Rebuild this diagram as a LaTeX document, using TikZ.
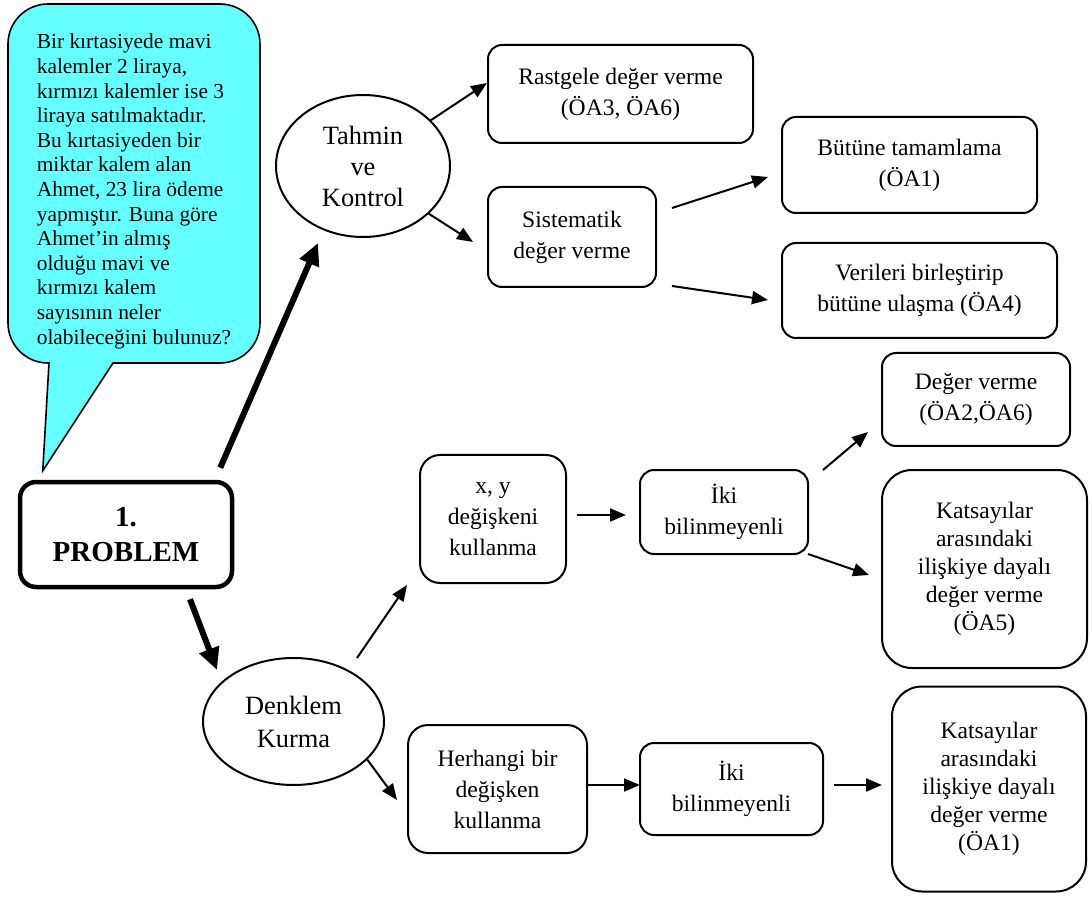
\documentclass[tikz,border=0pt]{standalone}
\usepackage{fontspec}
\setmainfont{Liberation Serif}
\usepackage{xcolor}
\usepackage{tikz}
\usetikzlibrary{shapes,arrows.meta,positioning,backgrounds}
\definecolor{bubblecyan}{RGB}{102,255,255}
\tikzstyle{bubble} = [draw=black, line width=0.8pt, fill=bubblecyan]
\tikzstyle{qtext} = [rectangle, minimum width=126pt, minimum height=179.5pt, inner sep=0pt, outer sep=0pt, align=left, font=\fontsize{10.7}{12.3}\selectfont]
\tikzstyle{start} = [rectangle, rounded corners=8pt, draw, line width=2.25pt, minimum width=106pt, minimum height=52.5pt, align=center, font=\fontsize{14.5}{17.5}\selectfont\bfseries]
\tikzstyle{oval} = [ellipse, draw, line width=1pt, inner sep=0pt, outer sep=0pt, align=center, font=\fontsize{13.2}{16.5}\selectfont]
\tikzstyle{box} = [rectangle, rounded corners=7pt, draw, line width=1pt, inner sep=0pt, outer sep=0pt, align=center, font=\fontsize{11.8}{15.5}\selectfont]
\tikzstyle{bigbox} = [box, rounded corners=15pt, font=\fontsize{11.8}{14}\selectfont]
\tikzstyle{tedge} = [draw, line width=1pt, >={Triangle[length=8pt,width=6.5pt]}, ->]
\tikzstyle{bigedge} = [draw, line width=3pt, >={Triangle[length=11pt,width=10pt]}, ->]

\begin{document}
\begin{tikzpicture}[auto, on grid]
\useasboundingbox (0,0) rectangle (546pt,-449pt);

% question =============================
\node[qtext] (q) at (67pt,-91.75pt) {\rule{0pt}{15.3pt}Bir kırtasiyede mavi\\kalemler 2 liraya,\\kırmızı kalemler ise 3\\liraya satılmaktadır.\\Bu kırtasiyeden bir\\miktar kalem alan\\Ahmet, 23 lira ödeme\\yapmıştır. Buna göre\\Ahmet’in almış\\olduğu mavi ve\\kırmızı kalem\\sayısının neler\\olabileceğini bulunuz?};
\node[start, below left=175.5pt and 4pt of q] (problem) {1.\\PROBLEM};
\coordinate (tip) at ([shift={(12.5pt,4.5pt)}]problem.north west);

\begin{scope}[on background layer]
\draw[bubble] ([xshift=52.5pt]q.south west) -- ([xshift=-20pt]q.south east)
  arc[start angle=-90, end angle=0, radius=20pt] -- ([yshift=-20pt]q.north east)
  arc[start angle=0, end angle=90, radius=20pt] -- ([xshift=20pt]q.north west)
  arc[start angle=90, end angle=180, radius=20pt] -- ([yshift=20pt]q.south west)
  arc[start angle=180, end angle=270, radius=20pt] -- ([xshift=20.5pt]q.south west)
  -- (tip) -- cycle;
\end{scope}

% tahmin ve kontrol
\node[oval, font=\fontsize{13.2}{15.5}\selectfont, minimum width=87pt, minimum height=71pt, above right=8.75pt and 114.5pt of q] (tahmin) {Tahmin\\ve\\Kontrol};
\node[box, minimum width=132.5pt, minimum height=49pt, above right=36pt and 128.75pt of tahmin] (rast) {Rastgele değer verme\\(ÖA3, ÖA6)};
\node[box, minimum width=84pt, minimum height=50pt, below right=35.5pt and 104.5pt of tahmin] (sist) {Sistematik\\değer verme};
\node[box, minimum width=127.5pt, minimum height=48pt, above right=36pt and 168.75pt of sist] (butun) {Bütüne tamamlama\\(ÖA1)};
\node[box, minimum width=137.5pt, minimum height=47.5pt, below right=26.75pt and 173.75pt of sist] (veri) {Verileri birleştirip\\bütüne ulaşma (ÖA4)};

% denklem kurma
\node[oval, minimum width=90.5pt, minimum height=63.5pt, below right=93.5pt and 83.75pt of problem] (denklem) {Denklem\\Kurma};
\node[box, rounded corners=10pt, minimum width=73pt, minimum height=64pt, above right=101.25pt and 99.75pt of denklem] (xy) {x, y\\değişkeni\\kullanma};
\node[box, minimum width=84pt, minimum height=42pt, above right=3.5pt and 115.5pt of xy] (iki1) {İki\\bilinmeyenli};
\node[box, minimum width=94pt, minimum height=46.5pt, above right=56.25pt and 126pt of iki1] (degv) {Değer verme\\(ÖA2,ÖA6)};
\node[bigbox, minimum width=102.5pt, minimum height=99pt, below right=28.5pt and 130.25pt of iki1] (kat1) {Katsayılar\\arasındaki\\ilişkiye dayalı\\değer verme\\(ÖA5)};
\node[box, rounded corners=10pt, minimum width=89.5pt, minimum height=64pt, below right=33.75pt and 102pt of denklem] (herh) {Herhangi bir\\değişken\\kullanma};
\node[box, minimum width=91.5pt, minimum height=46pt, right=117pt of herh] (iki2) {İki\\bilinmeyenli};
\node[bigbox, minimum width=97pt, minimum height=102.5pt, right=128.75pt of iki2] (kat2) {Katsayılar\\arasındaki\\ilişkiye dayalı\\değer verme\\(ÖA1)};

%edges
\path[bigedge] ([shift={(-7pt,6pt)}]problem.north east) -- ([shift={(-22.5pt,-3pt)}]tahmin.south);
\path[bigedge] ([shift={(32pt,-5pt)}]problem.south) -- ([shift={(7pt,25.75pt)}]denklem.west);

\path[tedge] (tahmin.34) -- ([shift={(-0.5pt,5.5pt)}]rast.west);
\path[tedge] (tahmin.-36) -- ([shift={(-7.5pt,-2.5pt)}]sist.west);
\path[tedge] ([shift={(8pt,14.5pt)}]sist.east) -- ([shift={(-7pt,-6pt)}]butun.west);
\path[tedge] ([shift={(8pt,-24.5pt)}]sist.east) -- ([shift={(-7pt,-4.75pt)}]veri.west);

\path[tedge] ([xshift=31.75pt]denklem.north) -- ([shift={(-6.5pt,-1pt)}]xy.south west);
\path[tedge] (denklem.-27) -- ([shift={(-5.5pt,-5.5pt)}]herh.west);
\path[tedge] ([shift={(5.5pt,2pt)}]xy.east) -- ([shift={(-7pt,-1.5pt)}]iki1.west);
\path[tedge] ([xshift=7.5pt]iki1.north east) -- ([shift={(-7pt,7pt)}]degv.south west);
\path[tedge] (iki1.south east) -- ([shift={(-6.5pt,-3pt)}]kat1.west);
\path[tedge] ([shift={(0.5pt,2pt)}]herh.east) -- ([yshift=2pt]iki2.west);
\path[tedge] ([shift={(5.5pt,2pt)}]iki2.east) -- ([shift={(-5pt,2pt)}]kat2.west);

\end{tikzpicture}
\end{document}
